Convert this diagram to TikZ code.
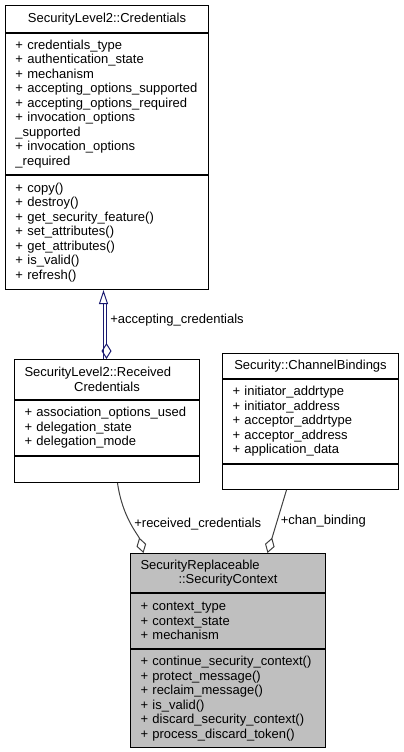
\documentclass[tikz,border=0pt]{standalone}
\usepackage{fontspec}
\setmainfont{Liberation Sans}
\usetikzlibrary{arrows.meta}
\definecolor{edgegray}{HTML}{404040}
\definecolor{inhblue}{HTML}{191970}
\definecolor{curfill}{HTML}{BFBFBF}

\tikzset{
  part/.style={draw=black, fill=white, anchor=north west, inner xsep=10pt, inner ysep=0pt, align=left,
    execute at begin node={\hyphenpenalty=10000\exhyphenpenalty=10000}},
  inh/.style={draw=inhblue, -{Triangle[open,length=14pt,width=9pt]}},
  comp/.style={draw=#1, -{Diamond[open,length=16pt,width=10pt]}},
}

\begin{document}
\begin{tikzpicture}[x=1pt,y=-1pt,font=\fontsize{13}{14.5}\selectfont,line width=1pt]
    \useasboundingbox (0,0) rectangle (404,752);
    % SecurityLevel2::Credentials
    \node[part,align=center,text width=183pt,minimum height=27pt] (credT) at (5,5) {SecurityLevel2::Credentials};
    \node[part,text width=183pt,minimum height=141pt] (credA) at (credT.south west) {+ credentials\_type\\+ authentication\_state\\+ mechanism\\+ accepting\_options\_supported\\+ accepting\_options\_required\\+ invocation\_options\\\_supported\\+ invocation\_options\\\_required};
    \node[part,text width=183pt,minimum height=114pt] (credM) at (credA.south west) {+ copy()\\+ destroy()\\+ get\_security\_feature()\\+ set\_attributes()\\+ get\_attributes()\\+ is\_valid()\\+ refresh()};
    % SecurityLevel2::ReceivedCredentials
    \node[part,align=center,text width=165pt,minimum height=40pt] (recvT) at (14,359) {\makebox[165pt][l]{SecurityLevel2::Received}\\Credentials};
    \node[part,text width=165pt,minimum height=55pt] (recvA) at (recvT.south west) {+ association\_options\_used\\+ delegation\_state\\+ delegation\_mode};
    \node[part,text width=165pt,minimum height=26pt] (recvM) at (recvA.south west) {};
    % Security::ChannelBindings
    \node[part,align=center,text width=156pt,minimum height=25pt] (chanT) at (222,353) {Security::ChannelBindings};
    \node[part,text width=156pt,minimum height=84pt] (chanA) at (chanT.south west) {+ initiator\_addrtype\\+ initiator\_address\\+ acceptor\_addrtype\\+ acceptor\_address\\+ application\_data};
    \node[part,text width=156pt,minimum height=25pt] (chanM) at (chanA.south west) {};
    % SecurityReplaceable::SecurityContext
    \node[part,fill=curfill,align=center,text width=175pt,minimum height=39pt] (ctxT) at (130,553) {\makebox[175pt][l]{SecurityReplaceable}\\::SecurityContext};
    \node[part,fill=curfill,text width=175pt,minimum height=55pt] (ctxA) at (ctxT.south west) {+ context\_type\\+ context\_state\\+ mechanism};
    \node[part,fill=curfill,text width=175pt,minimum height=98pt] (ctxM) at (ctxA.south west) {+ continue\_security\_context()\\+ protect\_message()\\+ reclaim\_message()\\+ is\_valid()\\+ discard\_security\_context()\\+ process\_discard\_token()};
    % relations
    \draw[inh] ([xshift=-3.5pt]recvT.north) -- ([xshift=-3.5pt]credM.south);
    \draw[comp=inhblue,shorten <=14pt] ([xshift=-0.5pt]credM.south) -- ([xshift=-0.5pt]recvT.north) node[pos=0.43,right] {+accepting\_credentials};
    \draw[comp=edgegray] ([xshift=10.5pt]recvM.south) .. controls +(5,35) and +(-5,-18) .. ([xshift=-84.5pt]ctxT.north) node[pos=0.5,right] {+received\_credentials};
    \draw[comp=edgegray] ([xshift=-24pt]chanM.south) -- ([xshift=39.5pt]ctxT.north) node[pos=0.5,right] {+chan\_binding};
\end{tikzpicture}
\end{document}
